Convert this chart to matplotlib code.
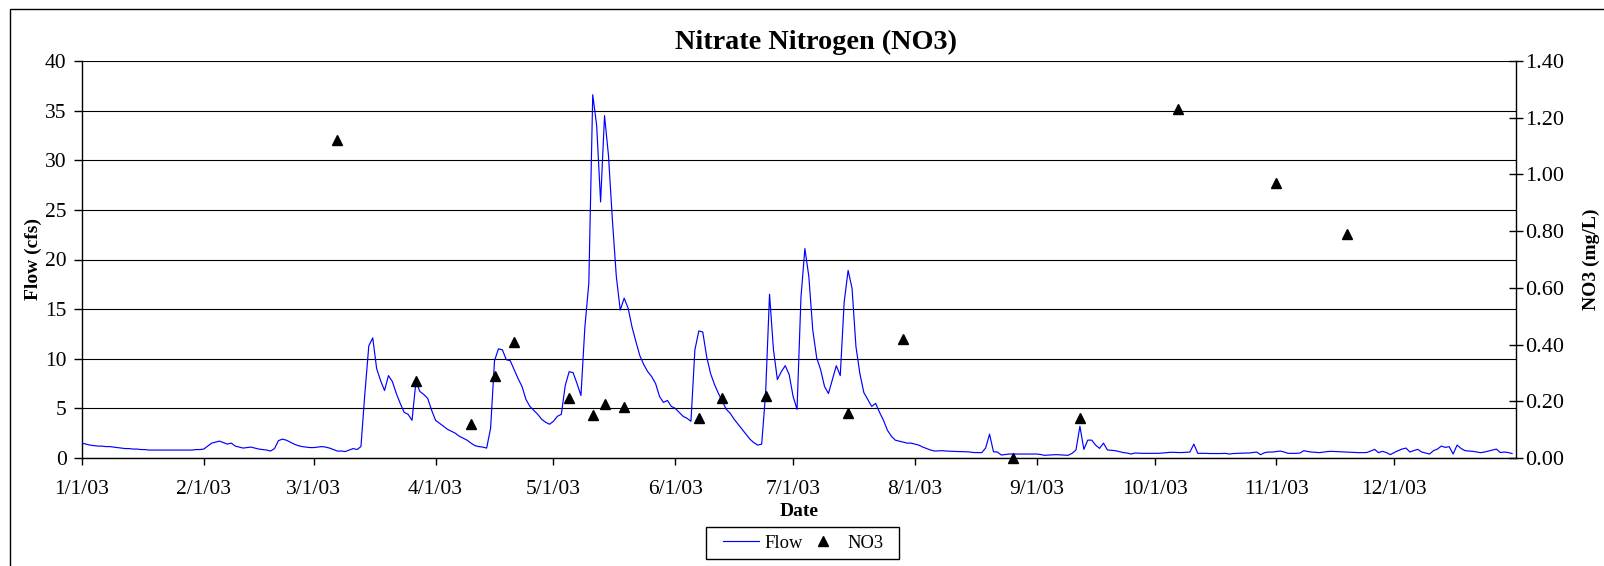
import matplotlib
matplotlib.use("Agg")
import matplotlib.pyplot as plt
import matplotlib.dates as mdates
from matplotlib.lines import Line2D
from matplotlib.patches import Rectangle
import numpy as np
import pandas as pd

plt.rcParams['font.family'] = ['Liberation Serif', 'DejaVu Serif']

# Daily flow (cfs)
flow_jan = [1.5, 1.4, 1.3, 1.25, 1.2, 1.2, 1.15, 1.15, 1.1, 1.05, 1.0, 0.95, 0.95, 0.9, 0.9, 0.85,
            0.85, 0.8, 0.8, 0.8, 0.8, 0.8, 0.8, 0.8, 0.8, 0.8, 0.8, 0.8, 0.8, 0.85, 0.85]
flow_feb = [0.9, 1.2, 1.5, 1.6, 1.7, 1.55, 1.4, 1.5, 1.2, 1.1, 1.0, 1.05, 1.1, 1.0, 0.9, 0.85,
            0.8, 0.7, 0.95, 1.75, 1.9, 1.8, 1.6, 1.4, 1.25, 1.15, 1.1, 1.05]
flow_mar = [1.05, 1.1, 1.15, 1.1, 1.0, 0.85, 0.7, 0.7, 0.65, 0.8, 0.95, 0.85, 1.15, 6.5, 11.3, 12.1,
            9.0, 7.8, 6.8, 8.3, 7.7, 6.5, 5.5, 4.6, 4.4, 3.8, 7.7, 6.7, 6.4, 6.0, 4.8]
flow_apr = [3.8, 3.5, 3.2, 2.9, 2.7, 2.5, 2.2, 2.0, 1.8, 1.5, 1.25, 1.15, 1.1, 1.0, 3.0, 9.8,
            11.0, 10.9, 9.9, 9.8, 8.9, 8.0, 7.2, 5.9, 5.2, 4.8, 4.4, 3.9, 3.6, 3.4]
flow_may = [3.7, 4.2, 4.4, 7.3, 8.7, 8.6, 7.5, 6.3, 13.2, 17.6, 36.6, 33.5, 25.8, 34.5, 30.5, 24.0,
            18.3, 14.9, 16.1, 15.1, 13.2, 11.7, 10.3, 9.4, 8.7, 8.2, 7.5, 6.2, 5.6, 5.8, 5.2]
flow_jun = [5.0, 4.6, 4.2, 4.0, 3.7, 10.9, 12.8, 12.7, 10.2, 8.5, 7.4, 6.5, 5.7, 4.9, 4.5, 3.9,
            3.4, 2.9, 2.4, 1.9, 1.55, 1.3, 1.4, 6.5, 16.5, 10.9, 7.9, 8.7, 9.3, 8.4]
flow_jul = [6.2, 4.9, 16.2, 21.1, 18.3, 12.9, 10.1, 8.9, 7.2, 6.5, 7.9, 9.3, 8.3, 15.7, 18.9, 17.1,
            11.2, 8.5, 6.6, 5.9, 5.2, 5.5, 4.6, 3.8, 2.8, 2.2, 1.8, 1.7, 1.6, 1.5, 1.5]
flow_aug = [1.4, 1.3, 1.1, 0.95, 0.8, 0.7, 0.72, 0.74, 0.7, 0.68, 0.67, 0.65, 0.64, 0.63, 0.6, 0.55,
            0.54, 0.54, 1.0, 2.4, 0.63, 0.6, 0.3, 0.35, 0.4, 0.4, 0.4, 0.4, 0.4, 0.4, 0.4]
flow_sep = [0.4, 0.35, 0.27, 0.3, 0.32, 0.34, 0.32, 0.3, 0.27, 0.47, 0.81, 3.2, 0.87, 1.8, 1.8, 1.3,
            0.97, 1.5, 0.81, 0.78, 0.74, 0.65, 0.55, 0.5, 0.4, 0.5, 0.48, 0.47, 0.47, 0.47]
flow_oct = [0.47, 0.47, 0.5, 0.52, 0.57, 0.57, 0.55, 0.55, 0.57, 0.6, 1.4, 0.47, 0.47, 0.47, 0.45, 0.45,
            0.45, 0.45, 0.47, 0.4, 0.45, 0.47, 0.5, 0.5, 0.5, 0.55, 0.6, 0.33, 0.54, 0.6, 0.6]
flow_nov = [0.65, 0.7, 0.6, 0.47, 0.47, 0.47, 0.5, 0.74, 0.65, 0.6, 0.57, 0.54, 0.6, 0.65, 0.67, 0.65,
            0.62, 0.6, 0.58, 0.56, 0.54, 0.54, 0.54, 0.55, 0.7, 0.87, 0.54, 0.67, 0.55, 0.34]
flow_dec = [0.55, 0.74, 0.9, 1.0, 0.6, 0.75, 0.87, 0.6, 0.5, 0.4, 0.74, 0.9, 1.2, 1.07, 1.14, 0.4,
            1.3, 0.97, 0.74, 0.7, 0.67, 0.6, 0.54, 0.6, 0.7, 0.8, 0.9, 0.55, 0.6, 0.55, 0.45]

flow = (flow_jan + flow_feb + flow_mar + flow_apr + flow_may + flow_jun +
        flow_jul + flow_aug + flow_sep + flow_oct + flow_nov + flow_dec)
flow_dates = pd.date_range("2003-01-01", periods=len(flow), freq="D")

# NO3 grab samples (mg/L)
no3_dates = pd.to_datetime([
    "2003-03-07", "2003-03-27", "2003-04-10", "2003-04-16", "2003-04-21", "2003-05-05",
    "2003-05-11", "2003-05-14", "2003-05-19", "2003-06-07", "2003-06-13", "2003-06-24",
    "2003-07-15", "2003-07-29", "2003-08-26", "2003-09-12", "2003-10-07", "2003-11-01",
    "2003-11-19"])
no3_vals = [1.12, 0.27, 0.12, 0.29, 0.41, 0.21, 0.15, 0.19, 0.18, 0.14, 0.21, 0.22,
            0.16, 0.42, 0.00, 0.14, 1.23, 0.97, 0.79]

month_ticks = pd.date_range("2003-01-01", "2003-12-01", freq="MS")

W, H = 1604, 566
fig = plt.figure(figsize=(W / 100, H / 100), dpi=100)
fig.subplots_adjust(left=82 / W, right=1516 / W, top=1 - 61 / H, bottom=1 - 458 / H)
ax = fig.add_subplot(111)
ax2 = ax.twinx()

# outer chart border (runs off the right and bottom edge)
fig.patches.append(Rectangle((10 / W, -0.2), 2, 1 - 9 / H + 0.2, fill=False,
                             edgecolor='black', lw=1.0, transform=fig.transFigure))

ax.plot(flow_dates, flow, color='#0000FF', lw=0.85, zorder=3)
ax2.plot(no3_dates, no3_vals, linestyle='none', marker='^', color='black', ms=7,
         zorder=4, clip_on=False)

ax.set_xlim(pd.Timestamp("2003-01-01"), pd.Timestamp("2004-01-01"))
ax.set_ylim(0, 40)
ax2.set_ylim(0, 1.4)

ax.set_yticks(np.arange(0, 41, 5))
ax2.set_yticks(np.arange(0, 1.41, 0.2))
ax2.yaxis.set_major_formatter(plt.FuncFormatter(lambda v, p: f"{v:.2f}"))
ax.set_xticks(month_ticks)
ax.xaxis.set_major_formatter(plt.FuncFormatter(
    lambda v, p: (lambda d: f"{d.month}/{d.day}/{d.strftime('%y')}")(mdates.num2date(v))))

ax.yaxis.grid(True, color='black', lw=0.8)
ax.set_axisbelow(True)

ax.spines['top'].set_visible(False)
ax.spines['right'].set_visible(False)
ax2.spines['top'].set_visible(False)
ax2.spines['left'].set_visible(False)
ax2.spines['bottom'].set_visible(False)
for sp in [ax.spines['left'], ax.spines['bottom'], ax2.spines['right']]:
    sp.set_linewidth(1.0)

ax.tick_params(axis='y', direction='out', length=6, width=1, labelsize=15.5, pad=5)
ax.tick_params(axis='x', direction='out', length=5, width=1, labelsize=15.5, pad=11)
ax2.tick_params(axis='y', direction='inout', length=10, width=1, labelsize=16, pad=1.5)

ax.set_title("Nitrate Nitrogen (NO3)", fontsize=20.3, fontweight='bold', pad=8.5, x=0.512)
ax.set_xlabel("Date", fontsize=14, fontweight='bold')
ax.xaxis.label.set_va('center')
ax.xaxis.set_label_coords(0.5, (458 - 511) / 397)
ax.set_ylabel("Flow (cfs)", fontsize=14, fontweight='bold')
ax.yaxis.set_label_coords((42 - 82) / 1434, 0.5)
ax2.set_ylabel("NO3 (mg/L)", fontsize=14, fontweight='bold')
ax2.yaxis.set_label_coords((1583 - 82) / 1434, 0.5)

# legend: entries without frame, box drawn separately (wider side padding, as in Excel)
handles = [Line2D([], [], color='#0000FF', lw=0.85),
           Line2D([], [], linestyle='none', marker='^', color='black', ms=7)]
leg = fig.legend(handles, ["Flow", "NO3"], loc='center', ncol=2,
                 bbox_to_anchor=(803 / W, 1 - 543 / H), fontsize=13.3,
                 frameon=False, handlelength=1.95, handletextpad=0.32,
                 columnspacing=0.1, borderpad=0.0)
fig.patches.append(Rectangle((706 / W, 1 - 559 / H), 193 / W, 32 / H, fill=False,
                             edgecolor='black', lw=1.0, transform=fig.transFigure))

fig.savefig("out.png", dpi=100)
